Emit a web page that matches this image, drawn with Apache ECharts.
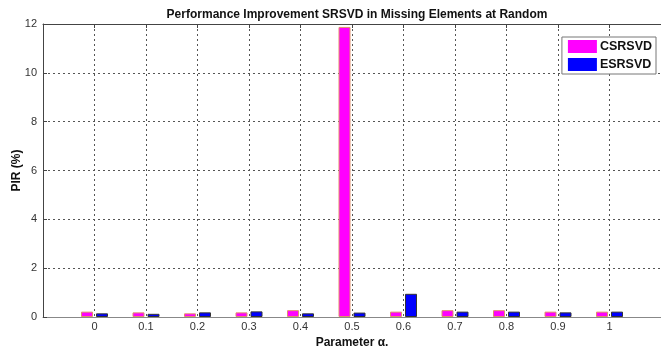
<!DOCTYPE html>
<html>
<head>
<meta charset="utf-8">
<script src="https://cdn.jsdelivr.net/npm/echarts@6/dist/echarts.min.js"></script>
<style>
  html, body { margin: 0; padding: 0; background: #fff; }
  #chart { width: 661px; height: 348px; }
</style>
</head>
<body>
<div id="chart"></div>
<script>
// Parameter alpha values (x categories)
const alphas = [0, 0.1, 0.2, 0.3, 0.4, 0.5, 0.6, 0.7, 0.8, 0.9, 1];
// PIR (%) for each method
const csrsvd = [0.22, 0.19, 0.15, 0.19, 0.28, 11.88, 0.22, 0.28, 0.28, 0.22, 0.22];
const esrsvd = [0.15, 0.13, 0.19, 0.23, 0.15, 0.18, 0.95, 0.22, 0.22, 0.19, 0.22];
// Axis ranges / ticks
const xRange = [-0.1, 1.1];
const xStep = 0.1;
const yRange = [0, 12];
const yStep = 2;

const FONT = '"Liberation Sans", Arial, sans-serif';
const axisColor = '#444';
const dotted = { color: '#555', type: [2, 3], width: 1 };

function fmtX(v) {
  const r = Math.round(v * 10) / 10;
  if (r < 0 || r > 1) return '';
  return String(r);
}

const chart = echarts.init(document.getElementById('chart'), null, { renderer: 'canvas' });
chart.setOption({
  backgroundColor: '#fff',
  animation: false,
  textStyle: { fontFamily: FONT },
  title: {
    text: 'Performance Improvement SRSVD in Missing Elements at Random',
    left: 352, top: 4, textAlign: 'center',
    textStyle: { fontFamily: FONT, fontSize: 12, fontWeight: 'bold', color: '#111' }
  },
  legend: {
    data: ['CSRSVD', 'ESRSVD'],
    orient: 'vertical',
    right: 5, top: 37,
    icon: 'rect',
    itemWidth: 29, itemHeight: 13, itemGap: 5,
    padding: [3, 4, 3, 6],
    backgroundColor: '#fff',
    borderColor: '#777', borderWidth: 1,
    itemStyle: { borderWidth: 0 },
    textStyle: { fontFamily: FONT, fontSize: 12.5, fontWeight: 'bold', color: '#111', padding: [0, 0, 0, -2] }
  },
  grid: { left: 43, right: 0, top: 24, bottom: 31, containLabel: false, outerBoundsMode: 'none' },
  xAxis: [
    {
      type: 'value', min: xRange[0], max: xRange[1], interval: xStep,
      name: 'Parameter α.', nameLocation: 'middle', nameGap: 18,
      nameTextStyle: { fontFamily: FONT, fontSize: 12, fontWeight: 'bold', color: '#111' },
      axisLine: { show: true, onZero: false, lineStyle: { color: '#888' } },
      axisTick: { show: false },
      axisLabel: { formatter: fmtX, fontSize: 11, color: '#333', margin: 4, showMinLabel: false, showMaxLabel: false },
      splitLine: { show: true, showMinLine: false, showMaxLine: false, lineStyle: dotted }
    },
    {
      type: 'value', position: 'top', min: xRange[0], max: xRange[1], interval: xStep,
      axisLine: { show: true, onZero: false, lineStyle: { color: axisColor } },
      axisTick: { show: true, inside: true, length: 4, lineStyle: { color: axisColor } },
      axisLabel: { show: false },
      splitLine: { show: false }
    }
  ],
  yAxis: {
    type: 'value', min: yRange[0], max: yRange[1], interval: yStep,
    name: 'PIR (%)', nameLocation: 'middle', nameGap: 20, nameRotate: 90, nameMoveOverlap: false,
    nameTextStyle: { fontFamily: FONT, fontSize: 12, fontWeight: 'bold', color: '#111' },
    axisLine: { show: true, onZero: false, lineStyle: { color: axisColor } },
    axisTick: { show: true, inside: true, length: 4, lineStyle: { color: axisColor } },
    axisLabel: { fontSize: 11, color: '#333', margin: 6 },
    splitLine: { show: true, showMinLine: false, showMaxLine: false, lineStyle: dotted }
  },
  series: [
    {
      name: 'CSRSVD', type: 'bar',
      data: alphas.map((a, i) => [a, csrsvd[i]]),
      barWidth: 12, barGap: '25%',
      itemStyle: { color: '#ff00ff', borderColor: '#e0906a', borderWidth: 1 }
    },
    {
      name: 'ESRSVD', type: 'bar',
      data: alphas.map((a, i) => [a, esrsvd[i]]),
      barWidth: 12, barGap: '25%',
      itemStyle: { color: '#0000ff', borderColor: '#333', borderWidth: 1 }
    }
  ]
});
</script>
</body>
</html>
